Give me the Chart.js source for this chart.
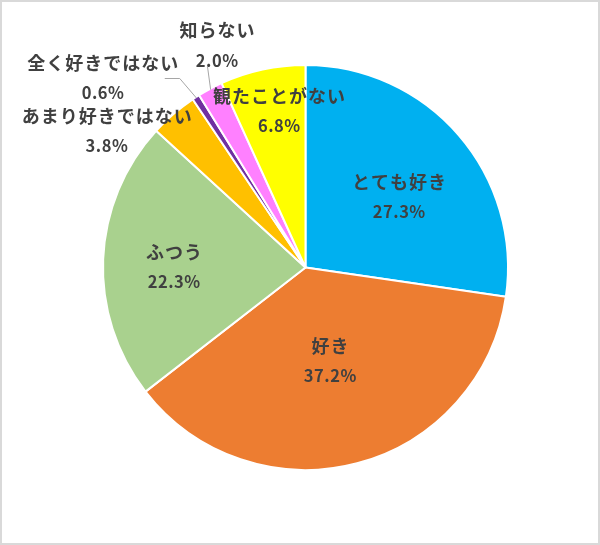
<!DOCTYPE html>
<html lang="ja">
<head>
  <meta charset="UTF-8">
  <title>好き嫌いアンケート</title>
  <script src="https://cdn.jsdelivr.net/npm/chart.js"></script>
  <style>
    body {
      margin: 0;
      padding: 0;
      background: #fff;
    }
    .wrap {
      position: relative;
      width: 600px;
      height: 545px;
    }
    .wrap::after {
      content: '';
      position: absolute;
      left: 0; top: 0; right: 0; bottom: 0;
      border: 2px solid #d9d9d9;
      pointer-events: none;
    }
    canvas { display: block; }
  </style>
</head>
<body>
  <div class="wrap">
    <canvas id="pie" width="600" height="545"></canvas>
  </div>

  <script>
    const labels = ['とても好き', '好き', 'ふつう', 'あまり好きではない', '全く好きではない', '知らない', '観たことがない'];
    const values = [27.3, 37.2, 22.3, 3.8, 0.6, 2.0, 6.8];
    const colors = ['#00b0f0', '#ed7d31', '#a9d18e', '#ffc000', '#7030a0', '#ff80ff', '#ffff00'];

    // label placement: fraction of radius along the slice's middle angle, plus a nudge
    const labelR = [0.578, 0.476, 0.65, 1.15, 1.33, 1.17, 0.78];
    const labelDx = [5, 0, 0, -47, -57, 23, 7];
    const labelDy = [6, 0, 5, 40, 37, -13, -2];
    // leader lines (relative to label centre), drawn on to the slice edge
    const leaders = { 4: [[62, 0.5], [77, 0.5]], 5: [[-9.5, 21]] };

    const labelPlugin = {
      id: 'sliceLabels',
      afterDatasetsDraw(chart) {
        const ctx = chart.ctx;
        const arcs = chart.getDatasetMeta(0).data;
        ctx.save();
        ctx.textAlign = 'center';
        ctx.textBaseline = 'middle';
        ctx.fillStyle = '#404040';
        arcs.forEach((arc, i) => {
          const mid = (arc.startAngle + arc.endAngle) / 2;
          const R = arc.outerRadius;
          const lx = arc.x + Math.cos(mid) * R * labelR[i] + labelDx[i];
          const ly = arc.y + Math.sin(mid) * R * labelR[i] + labelDy[i];

          if (leaders[i]) {
            ctx.strokeStyle = '#a6a6a6';
            ctx.lineWidth = 1;
            ctx.beginPath();
            leaders[i].forEach((p, k) => {
              if (k === 0) ctx.moveTo(lx + p[0], ly + p[1]);
              else ctx.lineTo(lx + p[0], ly + p[1]);
            });
            ctx.lineTo(arc.x + Math.cos(mid) * (R - 1), arc.y + Math.sin(mid) * (R - 1));
            ctx.stroke();
          }

          ctx.font = 'bold 18px "Noto Sans CJK JP", "Noto Sans", sans-serif';
          ctx.letterSpacing = '1px';
          ctx.fillText(labels[i], lx + 0.5, ly - 15);
          ctx.font = 'bold 16.5px "Noto Sans CJK JP", "Noto Sans", sans-serif';
          ctx.letterSpacing = '0.5px';
          ctx.fillText(values[i].toFixed(1) + '%', lx + 0.25, ly + 15);
        });
        ctx.restore();
      }
    };

    new Chart(document.getElementById('pie'), {
      type: 'pie',
      data: {
        labels: labels,
        datasets: [{
          data: values,
          backgroundColor: colors,
          borderColor: '#ffffff',
          borderWidth: 2
        }]
      },
      options: {
        responsive: false,
        animation: false,
        layout: {
          padding: { left: 102, right: 91, top: 64, bottom: 74 }
        },
        plugins: {
          legend: { display: false },
          tooltip: { enabled: false }
        }
      },
      plugins: [labelPlugin]
    });
  </script>
</body>
</html>
